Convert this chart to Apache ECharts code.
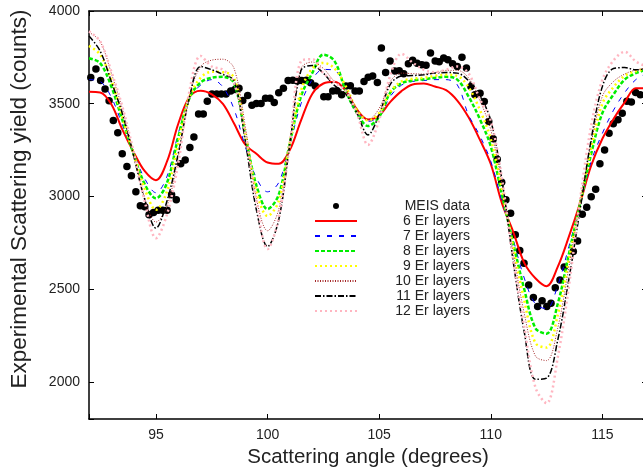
<!DOCTYPE html>
<html>
<head>
<meta charset="utf-8">
<script src="https://cdn.jsdelivr.net/npm/echarts@6/dist/echarts.min.js"></script>
<style>
  body { margin: 0; padding: 0; background: #fff; }
  #chart { width: 643px; height: 472px; }
</style>
</head>
<body>
<div id="chart"></div>
<script>
// measured MEIS points (angle, counts)
const meisX = [92.08, 92.31, 92.52, 92.72, 92.90, 93.09, 93.29, 93.49, 93.70, 93.90, 94.10, 94.30, 94.50, 94.69, 94.89, 95.10, 95.30, 95.50, 95.70, 95.91, 96.11, 96.31, 96.52, 96.70, 96.91, 97.12, 97.30, 97.51, 97.72, 97.93, 98.14, 98.35, 98.54, 98.72, 98.89, 99.11, 99.30, 99.50, 99.71, 99.91, 100.11, 100.30, 100.50, 100.71, 100.92, 101.13, 101.33, 101.53, 101.74, 101.93, 102.14, 102.52, 102.71, 102.92, 103.11, 103.32, 103.51, 103.71, 103.92, 104.11, 104.32, 104.51, 104.71, 104.92, 105.10, 105.29, 105.49, 105.70, 105.90, 106.10, 106.31, 106.50, 106.70, 106.91, 107.10, 107.30, 107.51, 107.69, 107.89, 108.08, 108.29, 108.50, 108.71, 108.91, 109.11, 109.29, 109.52, 109.71, 109.91, 110.11, 110.29, 110.49, 110.68, 110.89, 111.10, 111.30, 111.49, 111.70, 111.91, 112.10, 112.30, 112.51, 112.70, 112.89, 113.10, 113.29, 113.70, 113.89, 114.10, 114.30, 114.50, 114.70, 114.89, 115.10, 115.30, 115.49, 115.70, 115.89, 116.10, 116.30, 116.49, 116.70];
const meisY = [3642, 3687, 3625, 3579, 3516, 3409, 3343, 3230, 3161, 3111, 3026, 2950, 2945, 2901, 2913, 2926, 2925, 2925, 3009, 2982, 3176, 3197, 3264, 3320, 3444, 3444, 3514, 3552, 3552, 3552, 3552, 3568, 3577, 3584, 3517, 3544, 3492, 3501, 3501, 3529, 3530, 3506, 3559, 3583, 3625, 3626, 3623, 3625, 3626, 3613, 3595, 3537, 3537, 3568, 3570, 3548, 3595, 3597, 3568, 3568, 3620, 3643, 3650, 3614, 3800, 3668, 3731, 3676, 3678, 3661, 3715, 3734, 3718, 3710, 3707, 3773, 3731, 3726, 3746, 3737, 3715, 3701, 3750, 3692, 3593, 3548, 3557, 3512, 3404, 3311, 3201, 3077, 2982, 2910, 2793, 2708, 2640, 2523, 2455, 2406, 2438, 2406, 2424, 2508, 2550, 2619, 2703, 2760, 2904, 2942, 2999, 3039, 3176, 3250, 3341, 3392, 3413, 3449, 3513, 3509, 3560, 3548];

// simulated curves, sampled every 0.5 degree
const angles = [92, 92.5, 93, 93.5, 94, 94.5, 95, 95.5, 96, 96.5, 97, 97.5, 98, 98.5, 99, 99.5, 100, 100.5, 101, 101.5, 102, 102.5, 103, 103.5, 104, 104.5, 105, 105.5, 106, 106.5, 107, 107.5, 108, 108.5, 109, 109.5, 110, 110.5, 111, 111.5, 112, 112.5, 113, 113.5, 114, 114.5, 115, 115.5, 116, 116.5, 117];
const er6 = [3564, 3561, 3497, 3359, 3239, 3136, 3088, 3190, 3392, 3536, 3570, 3551, 3499, 3393, 3280, 3230, 3183, 3176, 3251, 3410, 3553, 3609, 3618, 3570, 3469, 3415, 3437, 3510, 3568, 3604, 3609, 3593, 3573, 3517, 3428, 3309, 3175, 2964, 2811, 2642, 2559, 2516, 2620, 2783, 2964, 3167, 3311, 3418, 3507, 3584, 3584];
const er7 = [3630, 3620, 3535, 3385, 3232, 3095, 3020, 3110, 3340, 3530, 3600, 3630, 3590, 3470, 3270, 3100, 3025, 3075, 3280, 3500, 3630, 3685, 3680, 3580, 3460, 3405, 3430, 3540, 3600, 3620, 3625, 3630, 3630, 3602, 3440, 3330, 3190, 2975, 2770, 2560, 2420, 2395, 2520, 2730, 2950, 3190, 3340, 3465, 3560, 3630, 3665];
const er8 = [3745, 3719, 3593, 3410, 3228, 3065, 2990, 3075, 3320, 3530, 3615, 3640, 3645, 3610, 3330, 3060, 2932, 3010, 3290, 3540, 3665, 3765, 3730, 3570, 3450, 3380, 3430, 3560, 3610, 3625, 3632, 3640, 3645, 3630, 3540, 3420, 3270, 3010, 2750, 2500, 2290, 2260, 2420, 2690, 2960, 3230, 3450, 3550, 3630, 3665, 3683];
const er9 = [3812, 3765, 3628, 3425, 3228, 3040, 2928, 3030, 3290, 3535, 3640, 3672, 3670, 3640, 3340, 3030, 2895, 2975, 3290, 3570, 3690, 3720, 3690, 3595, 3470, 3410, 3450, 3565, 3620, 3635, 3640, 3650, 3656, 3650, 3590, 3470, 3310, 3040, 2730, 2440, 2210, 2185, 2360, 2660, 2960, 3260, 3500, 3590, 3650, 3675, 3688];
const er10 = [3885, 3836, 3665, 3470, 3235, 2990, 2862, 2950, 3215, 3545, 3700, 3735, 3740, 3690, 3380, 2990, 2815, 2930, 3300, 3690, 3725, 3690, 3620, 3580, 3475, 3415, 3475, 3620, 3665, 3662, 3660, 3668, 3680, 3680, 3640, 3521, 3360, 3070, 2700, 2370, 2140, 2115, 2290, 2620, 2975, 3290, 3540, 3620, 3660, 3682, 3692];
const er11 = [3865, 3784, 3620, 3445, 3219, 2982, 2829, 2978, 3231, 3533, 3701, 3683, 3658, 3624, 3300, 2928, 2730, 2874, 3284, 3680, 3706, 3665, 3598, 3553, 3451, 3332, 3442, 3605, 3649, 3652, 3656, 3665, 3668, 3665, 3625, 3546, 3409, 3091, 2654, 2270, 2014, 2020, 2225, 2554, 2928, 3309, 3593, 3690, 3695, 3683, 3688];
const er12 = [3890, 3836, 3674, 3482, 3240, 2972, 2775, 2906, 3180, 3568, 3758, 3701, 3683, 3611, 3338, 2969, 2716, 2885, 3287, 3730, 3740, 3665, 3616, 3568, 3449, 3278, 3413, 3654, 3769, 3722, 3683, 3670, 3683, 3701, 3665, 3528, 3408, 3097, 2660, 2298, 1971, 1885, 2131, 2514, 2982, 3381, 3629, 3733, 3780, 3728, 3701];

const names = ["MEIS data", "6 Er layers", "7 Er layers", "8 Er layers", "9 Er layers", "10 Er layers", "11 Er layers", "12 Er layers"];

const textCol = "#222";
const font = "Liberation Sans, Arial, Helvetica, sans-serif";

function pairs(ys) {
  return angles.map((a, i) => [a, ys[i]]);
}

function curve(name, ys, color, width, dash) {
  return {
    name: name,
    type: "line",
    data: pairs(ys),
    symbol: "none",
    smooth: 0.35,
    color: color,
    lineStyle: { color: color, width: width, type: dash },
    z: 3,
  };
}

// legend: only the scatter keeps its dot, line entries show just the line sample
const hidden = { color: "rgba(0,0,0,0)", borderColor: "rgba(0,0,0,0)", borderWidth: 0, opacity: 0 };
const legendData = names.map((n, i) => (i === 0 ? { name: n } : { name: n, itemStyle: hidden }));

const chart = echarts.init(document.getElementById("chart"), null, { renderer: "canvas" });

const tickFmt5 = (v) => (Math.abs(v % 5) < 1e-6 ? String(v) : "");
const tickFmt500 = (v) => (v % 500 === 0 ? String(v) : "");

const option = {
  animation: false,
  backgroundColor: "#fff",
  grid: { left: 89, top: 11, right: -4, bottom: 53, containLabel: false, outerBoundsMode: "none" },
  legend: {
    orient: "vertical",
    left: 309,
    top: 194,
    itemWidth: 42,
    itemHeight: 6,
    itemGap: 1,
    data: legendData,
    formatter: (n) => "{t|" + n + "}",
    textStyle: {
      color: textCol,
      fontFamily: font,
      fontSize: 14,
      rich: { t: { width: 108, align: "right", fontSize: 14, lineHeight: 15, fontFamily: font, color: textCol } },
    },
  },
  xAxis: [
    {
      type: "value",
      min: 92,
      max: 117,
      name: "Scattering angle (degrees)",
      nameLocation: "middle",
      nameGap: 28,
      nameTextStyle: { color: textCol, fontSize: 20.5, fontFamily: font },
      splitLine: { show: false },
      axisLine: { lineStyle: { color: "#000", width: 1.5 } },
      axisTick: { inside: true, length: 5, lineStyle: { color: "#000" } },
      axisLabel: { color: textCol, fontSize: 14, fontFamily: font, margin: 9, formatter: tickFmt5 },
    },
    {
      type: "value",
      position: "top",
      min: 92,
      max: 117,
      splitLine: { show: false },
      axisLine: { lineStyle: { color: "#000", width: 1.5 } },
      axisTick: { inside: true, length: 5, lineStyle: { color: "#000" } },
      axisLabel: { show: false },
    },
  ],
  yAxis: [
    {
      type: "value",
      min: 1800,
      max: 4000,
      name: "Experimental Scattering yield (counts)",
      nameLocation: "middle",
      nameGap: 58,
      // left padding shifts the title up along the axis, as in the original
      nameTextStyle: { color: textCol, fontSize: 22.5, fontFamily: font, padding: [0, 0, 0, 32] },
      splitLine: { show: false },
      axisLine: { show: true, lineStyle: { color: "#000", width: 1.5 } },
      axisTick: { show: true, inside: true, length: 5, lineStyle: { color: "#000" } },
      axisLabel: { color: textCol, fontSize: 14, fontFamily: font, margin: 9, formatter: tickFmt500 },
    },
    {
      type: "value",
      position: "right",
      min: 1800,
      max: 4000,
      splitLine: { show: false },
      axisLine: { show: true, lineStyle: { color: "#000", width: 1.5 } },
      axisTick: { show: true, inside: true, length: 5, lineStyle: { color: "#000" } },
      axisLabel: { show: false },
    },
  ],
  series: [
    {
      name: "MEIS data",
      type: "scatter",
      data: meisX.map((x, i) => [x, meisY[i]]),
      symbol: "circle",
      symbolSize: 7.5,
      color: "#000",
      itemStyle: { color: "#000", opacity: 1 },
      z: 2,
    },
    curve("6 Er layers", er6, "#ff0000", 2, "solid"),
    curve("7 Er layers", er7, "#0000ff", 1, [5, 7]),
    curve("8 Er layers", er8, "#00ee00", 2.5, [4, 2]),
    curve("9 Er layers", er9, "#ffff00", 2.5, [2, 3]),
    curve("10 Er layers", er10, "#a52a2a", 1, [1, 1.5]),
    curve("11 Er layers", er11, "#000000", 1.5, [6, 2, 1.5, 2]),
    curve("12 Er layers", er12, "#ffb6c1", 2.5, [2, 3]),
  ],
};

chart.setOption(option);
</script>
</body>
</html>
